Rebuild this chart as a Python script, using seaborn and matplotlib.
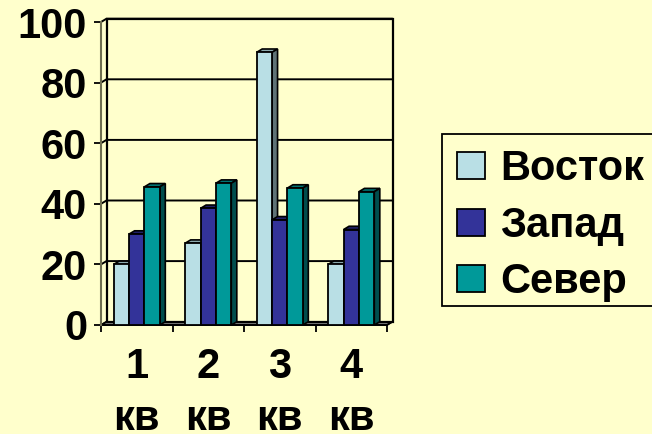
import matplotlib
matplotlib.use('Agg')
import matplotlib.pyplot as plt
from matplotlib.patches import Polygon, Rectangle
import pandas as pd
import seaborn as sns

quarters = ['1\nкв', '2\nкв', '3\nкв', '4\nкв']
vostok = [20, 27, 90, 20]
zapad = [30, 38.5, 34.7, 31.5]
sever = [45.6, 46.8, 45.2, 44]
series_names = ['Восток', 'Запад', 'Север']
y_ticks = [0, 20, 40, 60, 80, 100]

bg = '#FFFFCC'
front = ['#B9DFE5', '#333399', '#009999']
tops = ['#8CA9AD', '#1F1F66', '#007373']
sides = ['#5F7376', '#14143D', '#004D4D']

W, H = 652, 434
LEFT, RIGHT, TOP, BOTTOM = 101, 387, 22, 325
DEPTH_X, DEPTH_Y = 5.5, 3.3  # pixels

df = pd.DataFrame({'кв': quarters, 'Восток': vostok, 'Запад': zapad, 'Север': sever})
df = df.melt(id_vars='кв', var_name='ряд', value_name='v')

sns.set_theme(style='white')
plt.rcParams['font.family'] = ['Liberation Sans', 'DejaVu Sans']
plt.rcParams['font.weight'] = 'bold'
plt.rcParams['text.color'] = 'black'

fig = plt.figure(figsize=(W / 100, H / 100), dpi=100, facecolor=bg)
ax = fig.add_axes([LEFT / W, 1 - BOTTOM / H, (RIGHT - LEFT) / W, (BOTTOM - TOP) / H])
ax.set_facecolor('none')

sns.barplot(data=df, x='кв', y='v', hue='ряд', hue_order=series_names,
            palette=front, width=0.645, gap=0, saturation=1, ax=ax,
            edgecolor='black', linewidth=1.3, legend=True)
ax.set_xlim(-0.5, 3.5)
ax.set_ylim(0, 100)

# depth offset expressed in data units
dx = DEPTH_X * 4 / (RIGHT - LEFT)
dy = DEPTH_Y * 100 / (BOTTOM - TOP)
x0, x1 = ax.get_xlim()

# back wall, floor and gridlines
ax.add_patch(Polygon([(x0, 0), (x1, 0), (x1 + dx, dy), (x0 + dx, dy)], closed=True,
                     fc='#808080', ec='black', lw=1.2, clip_on=False, zorder=1))
ax.add_patch(Polygon([(x0 + dx, dy), (x1 + dx, dy), (x1 + dx, 100 + dy), (x0 + dx, 100 + dy)],
                     closed=True, fc=bg, ec='black', lw=1.6, clip_on=False, zorder=1.1))
for t in y_ticks[1:]:
    ax.plot([x0, x0 + dx, x1 + dx], [t, t + dy, t + dy], color='black', lw=1.4,
            clip_on=False, zorder=1.2, solid_joinstyle='miter')
ax.plot([x0, x0 + dx], [0, dy], color='black', lw=1.2, clip_on=False, zorder=1.2)
ax.plot([x1, x1 + dx], [0, dy], color='black', lw=1.2, clip_on=False, zorder=1.2)

# 3d sides on top of every bar, drawn series by series
for i, cont in enumerate(ax.containers):
    z = 3 + i
    for bar in cont:
        bx, bw, bh = bar.get_x(), bar.get_width(), bar.get_height()
        bar.set_zorder(z + 0.5)
        ax.add_patch(Polygon([(bx, bh), (bx + bw, bh), (bx + bw + dx, bh + dy), (bx + dx, bh + dy)],
                             closed=True, fc=tops[i], ec='black', lw=1.2, clip_on=False, zorder=z))
        ax.add_patch(Polygon([(bx + bw, 0), (bx + bw + dx, dy), (bx + bw + dx, bh + dy), (bx + bw, bh)],
                             closed=True, fc=sides[i], ec='black', lw=1.2, clip_on=False, zorder=z))

for s in ['top', 'right', 'bottom']:
    ax.spines[s].set_visible(False)
ax.spines['left'].set_color('#6E6E50')
ax.spines['left'].set_linewidth(1.5)
ax.plot([x0, x1], [0, 0], color='black', lw=1.4, clip_on=False, zorder=2)

ax.set_xlabel('')
ax.set_ylabel('')
ax.set_yticks(y_ticks)
ax.tick_params(axis='y', length=5, width=1.3, color='black', labelsize=30, pad=5, left=True)
ax.set_xticks(range(len(quarters)))
ax.set_xticklabels(quarters, fontsize=30, fontweight='bold', linespacing=1.38)
ax.tick_params(axis='x', which='major', length=0, pad=16, labelsize=30)
ax.set_xticks([x0 + k for k in range(5)], minor=True)
ax.tick_params(axis='x', which='minor', length=5, width=1.3, color='black', bottom=True)
for lab in ax.get_yticklabels() + ax.get_xticklabels():
    lab.set_fontweight('bold')
    lab.set_color('black')

handles, labels = ax.get_legend_handles_labels()
ax.get_legend().remove()
# frame runs past the right edge of the picture, so it is drawn apart from the legend
fig.add_artist(Rectangle((442 / W, 1 - 306 / H), 230 / W, 172 / H, transform=fig.transFigure,
                         fc=bg, ec='black', lw=1.3, zorder=1))
leg = fig.legend(handles, labels, loc='upper left', bbox_to_anchor=(457 / W, 1 - 149 / H),
                 bbox_transform=fig.transFigure, borderaxespad=0, labelcolor='black',
                 prop={'weight': 'bold', 'size': 30}, frameon=False, labelspacing=0.4,
                 handlelength=0.67, handleheight=0.62, handletextpad=0.36, borderpad=0)
leg.set_zorder(2)

fig.savefig('out.png', dpi=100, facecolor=bg)
